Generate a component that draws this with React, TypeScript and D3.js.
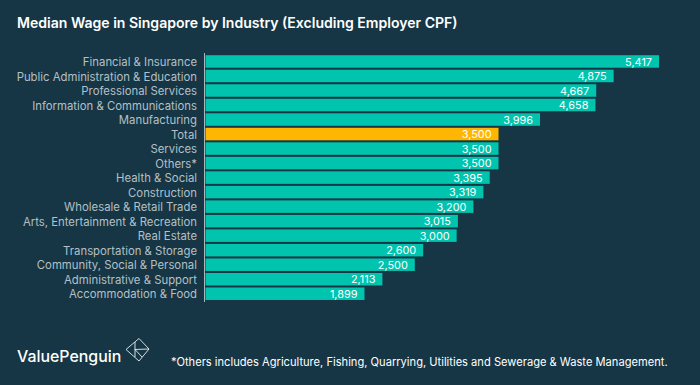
import React from "react";
import * as d3 from "d3";

const categories = ["Financial & Insurance","Public Administration & Education","Professional Services","Information & Communications","Manufacturing","Total","Services","Others*","Health & Social","Construction","Wholesale & Retail Trade","Arts, Entertainment & Recreation","Real Estate","Transportation & Storage","Community, Social & Personal","Administrative & Support","Accommodation & Food"];
const wages = [5417,4875,4667,4658,3996,3500,3500,3500,3395,3319,3200,3015,3000,2600,2500,2113,1899];
const highlighted = ["Total"];
const title = "Median Wage in Singapore by Industry (Excluding Employer CPF)";
const footnote = "*Others includes Agriculture, Fishing, Quarrying, Utilities and Sewerage & Waste Management.";
const brand = "ValuePenguin";

const BG = "#163645";
const TEAL = "#00c4ae";
const GOLD = "#ffb600";
const FONT = "Inter, 'Noto Sans', sans-serif";

export default function App() {
  const x = d3.scaleLinear().domain([0, 5417]).range([205.5, 659]);
  const y = d3.scaleBand().domain(categories).range([54.2, 301]).paddingInner(0.14).paddingOuter(0.07);
  return (
    <svg width={700} height={385} viewBox="0 0 700 385" style={{ position: "fixed", left: 0, top: 0, display: "block", background: BG }}>
      <rect width={700} height={385} fill={BG} />
      <text x={17} y={28} fill="#ffffff" fontFamily={FONT} fontSize={14.05} fontWeight={600}>{title}</text>
      {categories.map((c, i) => {
        const by = y(c) as number;
        const cy = by + y.bandwidth() / 2;
        return (
          <g key={c}>
            <text x={197} y={cy + 4.7} textAnchor="end" fill="#b4c0c6" fontFamily={FONT} fontSize={11.35}>{c}</text>
            <rect x={x(0)} y={by} width={x(wages[i]) - x(0)} height={y.bandwidth()} fill={highlighted.includes(c) ? GOLD : TEAL} />
            <text x={x(wages[i]) - 7} y={cy + 4.2} textAnchor="end" fill="#ffffff" fontFamily={FONT} fontSize={10.9}>{d3.format(",")(wages[i])}</text>
          </g>
        );
      })}
      <line x1={204.5} x2={204.5} y1={53} y2={302} stroke="#aab6bc" strokeWidth={1} />
      <text x={17} y={362} fill="#ffffff" fontFamily={FONT} fontSize={15.9} fontWeight={500}>{brand}</text>
      <g fill="none" stroke="#e8eef0" strokeWidth={0.9}>
        <path d="M126 349.500 L139 338.500 L149 349 L139 361 Z" />
        <path d="M135 342 L135 357 M135 349.500 L149 349 M135 349.500 L142 357" />
      </g>
      <text x={171} y={365.500} fill="#ffffff" fontFamily={FONT} fontSize={11.13}>{footnote}</text>
    </svg>
  );
}
